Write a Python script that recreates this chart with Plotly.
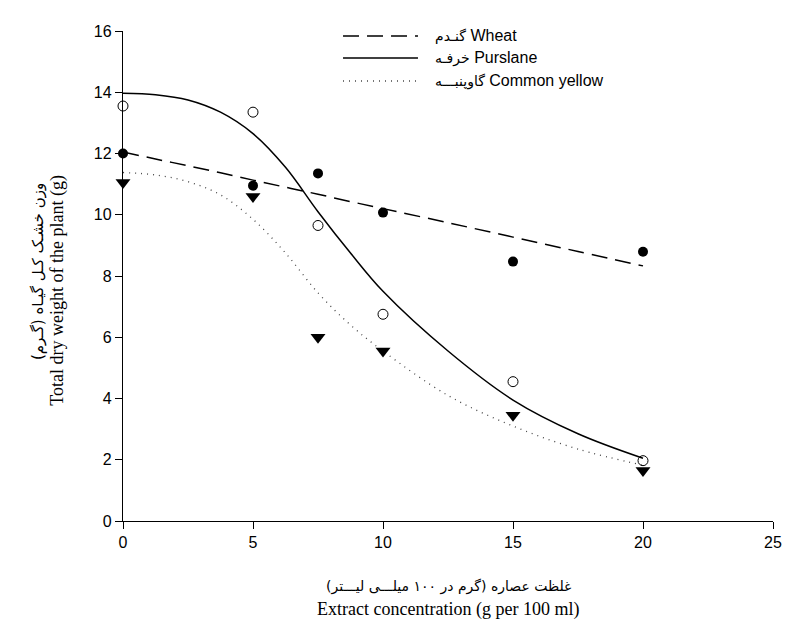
import plotly.graph_objects as go

# ---- observed data ----
conc = [0, 5, 7.5, 10, 15, 20]
wheat = [12.0, 10.95, 11.35, 10.07, 8.47, 8.79]
purslane = [13.55, 13.35, 9.65, 6.75, 4.55, 1.97]
common = [11.05, 10.6, 6.0, 5.55, 3.45, 1.65]

# ---- fitted curves ----
fit_x = [0, 1.25, 2.5, 3.75, 5, 6.25, 7.5, 8.75, 10, 12.5, 15, 17.5, 20]
wheat_fit = [12.05, 11.82, 11.6, 11.37, 11.13, 10.9, 10.67, 10.43, 10.2, 9.74, 9.27, 8.8, 8.33]
purslane_fit = [13.97, 13.92, 13.75, 13.35, 12.65, 11.55, 10.1, 8.75, 7.5, 5.55, 3.95, 2.85, 2.05]
common_fit = [11.38, 11.3, 11.08, 10.65, 9.85, 8.75, 7.45, 6.4, 5.55, 4.1, 3.1, 2.35, 1.82]

names_fa = ["گنـدم", "خرفـه", "گاوپنبـــه"]
names_en = ["Wheat", "Purslane", "Common yellow"]
x_ticks = [0, 5, 10, 15, 20, 25]
y_ticks = [0, 2, 4, 6, 8, 10, 12, 14, 16]

FA = "DejaVu Sans"
fig = go.Figure()

line_styles = [
    dict(color="black", width=1.5, dash="16px,8px"),
    dict(color="black", width=1.5, dash="solid"),
    dict(color="#444444", width=1.3, dash="1px,5px"),
]
for fy, ls, nm in zip([wheat_fit, purslane_fit, common_fit], line_styles, names_en):
    fig.add_trace(go.Scatter(x=fit_x, y=fy, mode="lines", line=dict(shape="spline", smoothing=1, **ls),
                             name=nm, showlegend=False, hoverinfo="skip"))

fig.add_trace(go.Scatter(x=conc, y=wheat, mode="markers", showlegend=False, cliponaxis=False,
                         marker=dict(symbol="circle", size=10, color="black", line=dict(width=0))))
fig.add_trace(go.Scatter(x=conc, y=purslane, mode="markers", showlegend=False, cliponaxis=False,
                         marker=dict(symbol="circle-open", size=10, color="black", line=dict(width=1))))
fig.add_trace(go.Scatter(x=conc, y=common, mode="markers", showlegend=False, cliponaxis=False,
                         marker=dict(symbol="triangle-down", size=13, color="black", line=dict(width=0))))

# custom legend
leg_rows = [0.9898, 0.9449, 0.898]
for yy, ls, fa, en in zip(leg_rows, line_styles, names_fa, names_en):
    fig.add_shape(type="line", xref="paper", yref="paper", x0=0.3385, x1=0.4538, y0=yy, y1=yy, line=ls)
    fig.add_annotation(xref="paper", yref="paper", x=0.4769, y=yy,
                       text=f"<span style='font-family:{FA};font-size:14px'>{fa}</span> {en}",
                       showarrow=False, xanchor="left", yanchor="middle",
                       font=dict(family="Liberation Sans, Arial", size=16, color="black"))

# axis titles (two lines each: Persian + English)
title_font_en = dict(family="Liberation Serif, Times New Roman", size=18, color="black")
fig.add_annotation(xref="paper", yref="paper", x=-0.1308, y=0.51, textangle=-90, showarrow=False,
                   xanchor="center", yanchor="middle", text="وزن خشـک کـل گیـاه (گـرم)",
                   font=dict(family=FA, size=15, color="black"))
fig.add_annotation(xref="paper", yref="paper", x=-0.1, y=0.47, textangle=-90, showarrow=False,
                   xanchor="center", yanchor="middle", text="Total dry weight of the plant (g)", font=title_font_en)
fig.add_annotation(xref="paper", yref="paper", x=0.5, y=-0.1327, showarrow=False,
                   xanchor="center", yanchor="middle", text="غلظت عصاره (گرم در ۱۰۰ میلـــی لیـــتر)",
                   font=dict(family=FA, size=14, color="black"))
fig.add_annotation(xref="paper", yref="paper", x=0.5, y=-0.1796, showarrow=False,
                   xanchor="center", yanchor="middle", text="Extract concentration (g per 100 ml)", font=title_font_en)

axis_common = dict(showgrid=False, zeroline=False, showline=True, linecolor="black", linewidth=1.3,
                   ticks="outside", ticklen=7, tickwidth=1.3, tickcolor="black",
                   tickfont=dict(family="Liberation Sans, Arial", size=16, color="black"))

fig.update_layout(
    width=805, height=626,
    margin=dict(l=115, r=40, t=23, b=113),
    paper_bgcolor="white", plot_bgcolor="white",
    showlegend=False,
    xaxis=dict(range=[0, 25], tickvals=x_ticks, ticktext=[str(t) for t in x_ticks], **axis_common),
    yaxis=dict(range=[0, 16], tickvals=y_ticks, ticktext=[str(t) for t in y_ticks], **axis_common),
)

fig.write_html("out.html")
